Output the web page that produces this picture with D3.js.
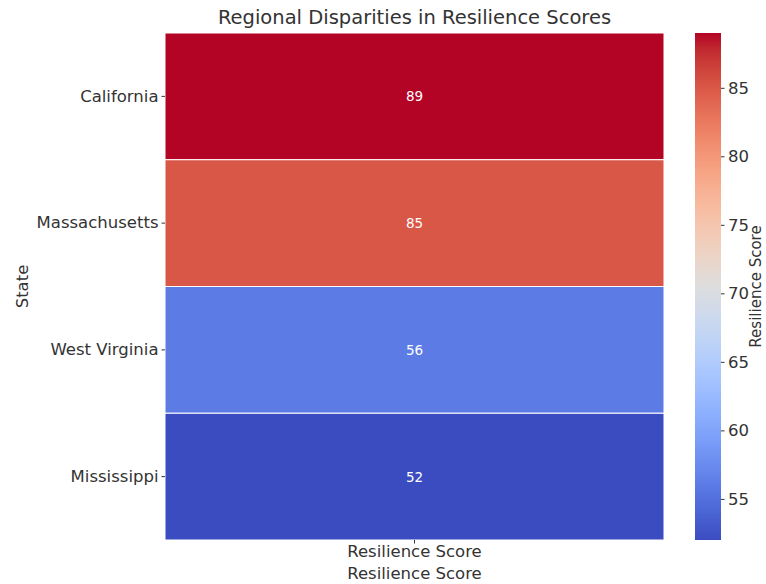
<!doctype html>
<html lang="en">
<head>
<meta charset="UTF-8" />
<script src="https://d3js.org/d3.v7.min.js"></script>
<style>
  body { margin: 0; background: #fff; }
  text { font-family: "DejaVu Sans", sans-serif; fill: #333; }
</style>
</head>
<body>
<div id="chart"></div>
<script>
// Data
const states = ["California", "Massachusetts", "West Virginia", "Mississippi"]
const columns = ["Resilience Score"]
const scores = [89, 85, 56, 52]
const colorTicks = [55, 60, 65, 70, 75, 80, 85]

// matplotlib "coolwarm" key colours
const coolwarm = ["#3b4cc0", "#445acc", "#4d68d7", "#5775e1", "#6282ea", "#6c8ef1", "#779af7", "#82a5fb",
  "#8db0fe", "#98b9ff", "#a3c2ff", "#aec9fd", "#b8d0f9", "#c2d5f4", "#ccd9ee", "#d5dbe6", "#dddddd",
  "#e5d8d1", "#ecd3c5", "#f1ccb9", "#f5c4ad", "#f7bba0", "#f7b194", "#f7a687", "#f49a7b", "#f18d6f",
  "#ec7f63", "#e57058", "#de604d", "#d55042", "#cb3e38", "#c0282f", "#b40426"]

const W = 766, H = 584
const margin = { top: 33, left: 165, right: 102, bottom: 44 }
const width = W - margin.left - margin.right
const height = H - margin.top - margin.bottom
const fs = "16.5px"

const svg = d3.select("#chart").append("svg").attr("width", W).attr("height", H)
const g = svg.append("g").attr("transform", `translate(${margin.left},${margin.top})`)

const vmin = d3.min(scores), vmax = d3.max(scores)
const color = d3.scaleLinear()
  .domain(coolwarm.map((c, i) => vmin + (vmax - vmin) * i / (coolwarm.length - 1)))
  .range(coolwarm)
  .interpolate(d3.interpolateRgb)

const x = d3.scaleBand().domain(columns).range([0, width])
const y = d3.scaleBand().domain(states).range([0, height])

const cells = states.map((s, i) => ({ state: s, col: columns[0], value: scores[i] }))

// Cells
g.selectAll(".cell")
  .data(cells)
  .enter().append("rect")
  .attr("x", d => x(d.col))
  .attr("y", d => y(d.state))
  .attr("width", x.bandwidth())
  .attr("height", y.bandwidth())
  .attr("fill", d => color(d.value))
  .attr("stroke", "#fff")
  .attr("stroke-width", 1)

g.selectAll(".annot")
  .data(cells)
  .enter().append("text")
  .attr("x", d => x(d.col) + x.bandwidth() / 2)
  .attr("y", d => y(d.state) + y.bandwidth() / 2)
  .attr("text-anchor", "middle")
  .attr("dominant-baseline", "central")
  .style("fill", "#fff")
  .style("font-size", "13.5px")
  .text(d => d.value)

// Axes
const yAxis = g.append("g").call(d3.axisLeft(y).tickSize(3.5).tickPadding(3))
yAxis.select(".domain").remove()
yAxis.selectAll(".tick line").attr("stroke", "#333")
yAxis.selectAll("text").style("font-size", fs).style("fill", "#333")

const xAxis = g.append("g").attr("transform", `translate(0,${height})`)
  .call(d3.axisBottom(x).tickSize(3.5).tickPadding(2))
xAxis.select(".domain").remove()
xAxis.selectAll(".tick line").attr("stroke", "#333")
xAxis.selectAll("text").style("font-size", fs).style("fill", "#333")

g.append("text")
  .attr("x", width / 2).attr("y", height + 39)
  .attr("text-anchor", "middle")
  .style("font-size", fs)
  .text("Resilience Score")

g.append("text")
  .attr("transform", `translate(${-137},${height / 2}) rotate(-90)`)
  .attr("text-anchor", "middle")
  .style("font-size", fs)
  .text("State")

// Title
svg.append("text")
  .attr("x", margin.left + width / 2).attr("y", 24)
  .attr("text-anchor", "middle")
  .style("font-size", "19.5px")
  .text("Regional Disparities in Resilience Scores")

// Colorbar
const cbX = 695, cbW = 26
const cb = svg.append("g").attr("transform", `translate(${cbX},${margin.top})`)
const grad = svg.append("defs").append("linearGradient")
  .attr("id", "cbgrad").attr("x1", 0).attr("y1", 1).attr("x2", 0).attr("y2", 0)
grad.selectAll("stop").data(coolwarm).enter().append("stop")
  .attr("offset", (d, i) => i / (coolwarm.length - 1))
  .attr("stop-color", d => d)
cb.append("rect").attr("width", cbW).attr("height", height).attr("fill", "url(#cbgrad)")

const cbScale = d3.scaleLinear().domain([vmin, vmax]).range([height, 0])
const cbAxis = cb.append("g").attr("transform", `translate(${cbW},0)`)
  .call(d3.axisRight(cbScale).tickValues(colorTicks).tickSize(3.5).tickPadding(3.5))
cbAxis.select(".domain").remove()
cbAxis.selectAll(".tick line").attr("stroke", "#333")
cbAxis.selectAll("text").style("font-size", fs).style("fill", "#333")

cb.append("text")
  .attr("transform", `translate(${cbW + 40},${height / 2}) rotate(-90)`)
  .attr("text-anchor", "middle")
  .style("font-size", "15px")
  .text("Resilience Score")
</script>
</body>
</html>
